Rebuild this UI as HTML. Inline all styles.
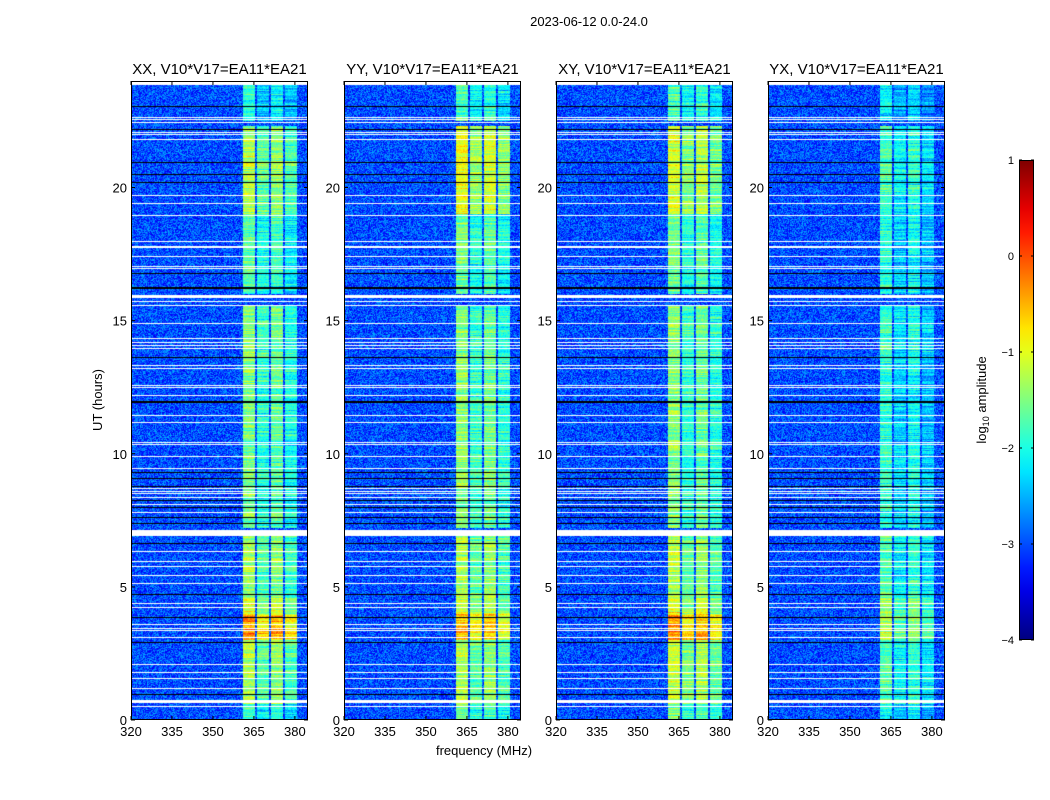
<!DOCTYPE html>
<html><head><meta charset="utf-8">
<style>
body{margin:0;background:#fff;width:1050px;height:800px;overflow:hidden;font-family:"Liberation Sans",sans-serif;}
#root{position:relative;width:1050px;height:800px;}
canvas{position:absolute;}
svg{position:absolute;left:0;top:0;}
</style></head>
<body>
<div id="root">
<svg id="ov" width="1050" height="800"></svg>
</div>
<script>
// ---- data ----
const panelNames = ["XX, V10*V17=EA11*EA21","YY, V10*V17=EA11*EA21","XY, V10*V17=EA11*EA21","YX, V10*V17=EA11*EA21"];
const xTicks = [320,335,350,365,380];
const yTicks = [0,5,10,15,20];
const cbTicks = [1,0,-1,-2,-3,-4];
const subbandStart = [361,366.1,371.2,376.4];
const subbandWidth = [4.4,4.4,4.4,4.4];
const subbandOffset = [0.15,-0.25,0,-0.35];
const segStart = [0,0.6,3.0,4.0,4.6,7.2,13.5,16.0,19.0,22.5];
const segEnd   = [0.6,3.0,4.0,4.6,7.0,13.5,15.6,19.0,22.3,24];
const levelXX = [-1.9,-1.4,-0.5,-1.1,-1.5,-1.7,-1.6,-1.8,-1.4,-2.1];
const levelYY = [-1.8,-1.4,-0.7,-1.2,-1.4,-1.6,-1.6,-1.7,-1.1,-1.9];
const levelXY = [-1.7,-1.3,-0.5,-1.1,-1.4,-1.6,-1.6,-1.7,-1.2,-1.9];
const levelYX = [-2.2,-1.9,-1.4,-1.6,-1.9,-2.1,-2.0,-2.1,-1.9,-2.3];
const whiteHours = [23.92,22.64,22.57,22.46,22.08,22.0,21.82,19.71,19.41,18.96,17.99,17.8,17.76,17.42,17.05,16.97,15.9,15.7,15.58,14.91,14.34,14.19,14.08,13.97,13.33,13.22,12.58,12.47,12.17,11.45,11.19,10.44,10.36,9.88,9.46,8.71,8.6,8.52,8.34,8.11,7.81,7.02,6.31,5.97,5.75,5.44,5.14,4.39,4.24,3.57,3.45,3.38,3.08,2.1,1.8,1.54,1.2,0.7,0.49];
const whiteWidth = {23.92:0.15,15.9:0.12,7.02:0.24,0.7:0.13};
const blackHours = [23.06,22.2,20.95,20.5,20.2,16.78,16.26,16.22,13.63,12.0,11.94,9.31,9.09,8.79,8.26,8.0,7.62,7.4,6.65,4.73,3.87,2.93,0.98];
const levels = [levelXX,levelYY,levelXY,levelYX];
const bgLevel = -3.0;

// ---- layout ----
const panelLeft=[131,344,556,768], PW=177, PT=81, PB=720, PH=PB-PT;
const fMin=320, fMax=384.8, hMin=0, hMax=24;
const NS="http://www.w3.org/2000/svg";
const svg=document.getElementById('ov');
function xs(i,f){return panelLeft[i]+(f-fMin)/(fMax-fMin)*PW;}
function ys(h){return PB-(h-hMin)/(hMax-hMin)*PH;}
function jet(v){const t=Math.max(0,Math.min(1,(v+4)/5));
 const c=x=>Math.round(255*Math.max(0,Math.min(1,x)));
 return [c(1.5-Math.abs(4*t-3)),c(1.5-Math.abs(4*t-2)),c(1.5-Math.abs(4*t-1))];}
function hash(a,b){let h=(a*374761393+b*668265263)|0;h=(h^(h>>>13))*1274126177|0;h=h^(h>>>16);return ((h>>>0)%10000)/10000;}
function el(tag,attrs,text){const e=document.createElementNS(NS,tag);for(const k in attrs)e.setAttribute(k,attrs[k]);if(text!==undefined)e.textContent=text;svg.appendChild(e);return e;}

const root=document.getElementById('root');
for(let i=0;i<4;i++){
 const cv=document.createElement('canvas');cv.width=PW;cv.height=PH;
 cv.style.left=panelLeft[i]+'px';cv.style.top=PT+'px';
 
 
 root.insertBefore(cv,svg);
 const ctx=cv.getContext('2d');const img=ctx.createImageData(PW,PH);
 for(let py=0;py<PH;py++){
  const h=hMax-(py+0.5)/PH*(hMax-hMin);
  let lvl=null;
  for(let s=0;s<segStart.length;s++) if(h>=segStart[s]&&h<segEnd[s]) lvl=levels[i][s];
  const rowN=hash(py,i+7)-0.5;
  for(let px=0;px<PW;px++){
   const f=fMin+(px+0.5)/PW*(fMax-fMin);
   let v=bgLevel+(hash(px+i*1000,py)-0.5)*1.0;
   if(lvl!==null){
    for(let b=0;b<4;b++){
     if(f>=subbandStart[b]&&f<subbandStart[b]+subbandWidth[b]){
      const rb=hash(py*3+b,i+11)-0.5;
      v=lvl+subbandOffset[b]+rowN*0.5+rb*0.5+(hash(px,py+i*5000)-0.5)*0.5;
     }
    }
   }
   const c=jet(v);const k=(py*PW+px)*4;
   img.data[k]=c[0];img.data[k+1]=c[1];img.data[k+2]=c[2];img.data[k+3]=255;
  }
 }
 ctx.putImageData(img,0,0);
 const scale=PH/(hMax-hMin);
 ctx.fillStyle='#fff';
 whiteHours.forEach(h=>{const w=(whiteWidth[h]||0)*scale;const hh=Math.max(1,Math.round(w));ctx.fillRect(0,Math.round(ys(h)-PT-hh/2),PW,hh);});
 ctx.fillStyle='#000';
 blackHours.forEach(h=>{ctx.fillRect(0,Math.round(ys(h)-PT),PW,1);});

 const fr=el('rect',{x:panelLeft[i]+0.5,y:PT+0.5,width:PW-1,height:PH-1,fill:'none',stroke:'#000','stroke-width':1});
 
 
 const tt=el('text',{x:panelLeft[i]+PW/2,y:74,'text-anchor':'middle','font-size':15},panelNames[i]);
 
 
 xTicks.forEach(t=>{const x=xs(i,t);
  el('line',{x1:x,x2:x,y1:PB,y2:PB-4,stroke:'#000'});el('line',{x1:x,x2:x,y1:PT,y2:PT+4,stroke:'#000'});
  const lb=el('text',{x:x,y:PB+16,'text-anchor':'middle','font-size':13},String(t));
  
  });
 yTicks.forEach(t=>{const y=ys(t);
  el('line',{x1:panelLeft[i],x2:panelLeft[i]+4,y1:y,y2:y,stroke:'#000'});el('line',{x1:panelLeft[i]+PW,x2:panelLeft[i]+PW-4,y1:y,y2:y,stroke:'#000'});
  const lb=el('text',{x:panelLeft[i]-4,y:y+5,'text-anchor':'end','font-size':13},String(t));
  
  });
}
let t;
t=el('text',{x:589,y:26,'text-anchor':'middle','font-size':13},'2023-06-12 0.0-24.0');

t=el('text',{x:484,y:755,'text-anchor':'middle','font-size':13},'frequency (MHz)');

t=el('text',{x:0,y:0,'text-anchor':'middle','font-size':13,transform:'translate(102,400) rotate(-90)'},'UT (hours)');


const cbX=1019,cbW=15,cbT=160,cbB=640;
const defs=el('defs',{});
const lg=document.createElementNS(NS,'linearGradient');lg.setAttribute('id','jetg');lg.setAttribute('x1','0');lg.setAttribute('y1','1');lg.setAttribute('x2','0');lg.setAttribute('y2','0');
for(let k=0;k<=20;k++){const v=-4+5*k/20;const c=jet(v);const s=document.createElementNS(NS,'stop');s.setAttribute('offset',k/20);s.setAttribute('stop-color','rgb('+c.join(',')+')');lg.appendChild(s);}
defs.appendChild(lg);
t=el('rect',{x:cbX+0.5,y:cbT+0.5,width:cbW-1,height:cbB-cbT-1,fill:'url(#jetg)',stroke:'#000'});

cbTicks.forEach(v=>{const y=cbB-(v+4)/5*(cbB-cbT);
 el('line',{x1:cbX,x2:cbX+3,y1:y,y2:y,stroke:'#000'});el('line',{x1:cbX+cbW,x2:cbX+cbW-3,y1:y,y2:y,stroke:'#000'});
 const lb=el('text',{x:cbX-5,y:y+4,'text-anchor':'end','font-size':11},v<0?'\u2212'+(-v):String(v));
 });
t=el('text',{x:0,y:0,'text-anchor':'middle','font-size':13,transform:'translate(986,400) rotate(-90)'},'');
t.innerHTML='log<tspan font-size="9" dy="3">10</tspan><tspan dy="-3"> amplitude</tspan>';

</script>
</body></html>
